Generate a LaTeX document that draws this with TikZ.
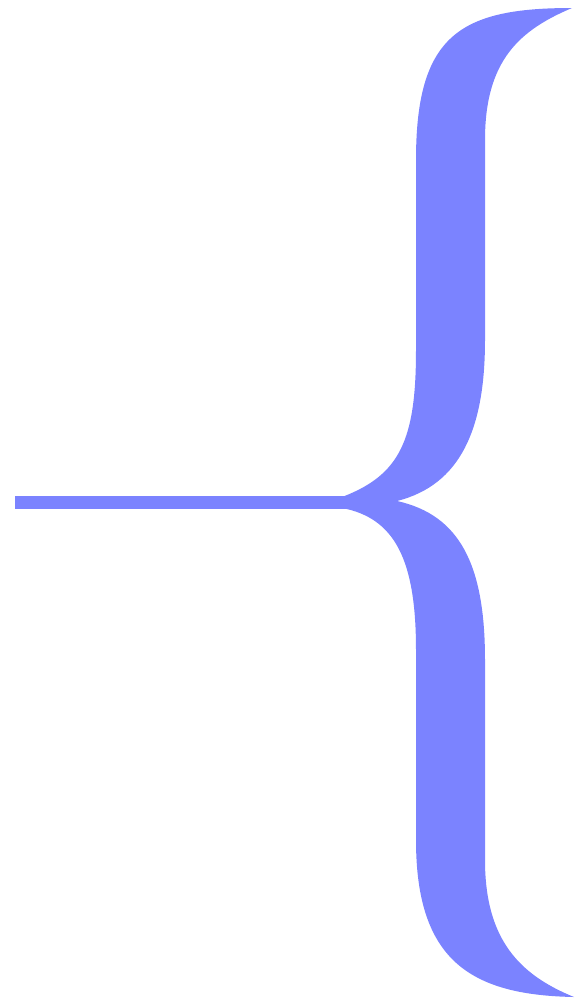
\documentclass[tikz,border=0pt]{standalone}
\definecolor{bracecol}{RGB}{123,131,255}
\begin{document}
\begin{tikzpicture}[x=0.03cm,y=-0.03cm, bracefill/.style={fill=bracecol,draw=none}]
\useasboundingbox (0,0) rectangle (575,1001);
% horizontal stem
\fill[bracefill] (15,496) rectangle (355,509);
% brace
\fill[bracefill] (572,8) .. controls (460,8) and (416,35) .. (416,160)
  -- (416,350) .. controls (416,440) and (400,475) .. (342,497)
  -- (342,508) .. controls (395,518) and (416,560) .. (416,650)
  -- (416,840) .. controls (416,960) and (470,995) .. (574,997)
  .. controls (520,975) and (485,940) .. (485,860)
  -- (485,660) .. controls (485,565) and (460,515) .. (397,501)
  .. controls (460,485) and (485,430) .. (485,340)
  -- (485,140) .. controls (485,60) and (520,30) .. (572,8) -- cycle;
\end{tikzpicture}
\end{document}
